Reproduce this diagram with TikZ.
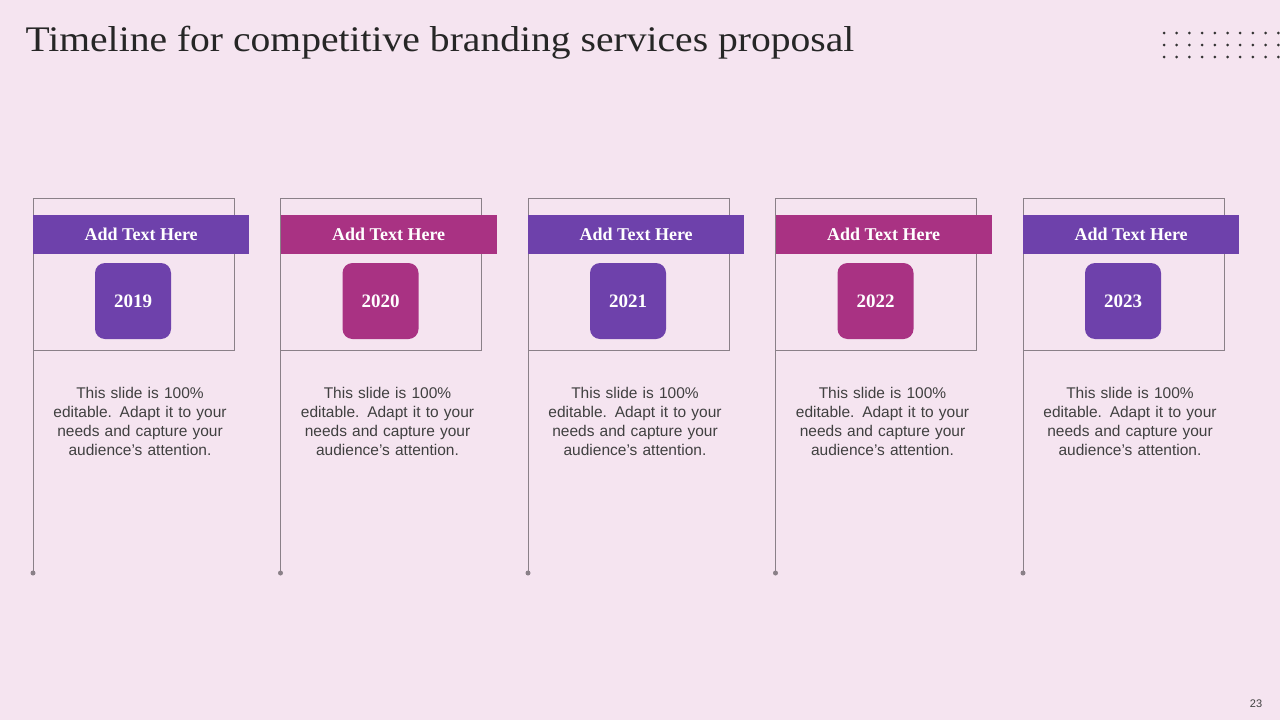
\documentclass[tikz,border=0pt]{standalone}
\usepackage{fontspec}
\setmainfont{Liberation Serif}
\setsansfont{Liberation Sans}
\newfontfamily\titlefont[FakeStretch=1.1]{Liberation Serif}
\usetikzlibrary{positioning}
\definecolor{bgpink}{HTML}{F5E4F0}
\definecolor{cardpurple}{HTML}{6E41AB}
\definecolor{cardmagenta}{HTML}{A93283}
\definecolor{framegray}{HTML}{8A8088}
\definecolor{bodytext}{HTML}{404040}
\begin{document}
\begin{tikzpicture}[
            x = 1pt, y = -1pt,
            frame/.style = {draw = framegray, line width = 0.8pt},
            banner/.style = {minimum width = 216pt, minimum height = 39pt, inner sep = 0pt,
                text = white, font = \fontsize{18}{20}\selectfont\bfseries},
            yearbox/.style = {rounded corners = 10pt, minimum size = 76pt, inner sep = 0pt,
                text = white, font = \fontsize{19}{22}\selectfont\bfseries},
            body/.style = {align = center, text = bodytext, text width = 190pt,
                font = \sffamily\fontsize{15.5}{19}\selectfont}
        ]
        \fill[bgpink] (0,0) rectangle (1280,720);
        \useasboundingbox (0,0) rectangle (1280,720);

        \node[anchor = west, text = black!85, font = \titlefont\fontsize{36}{40}\selectfont] (title) at (22,43)
            {Timeline for competitive branding services proposal};

        % dot grid top right
        \foreach \r in {0,1,2}
            \foreach \c in {0,...,9}
                \fill[black!80] (1164+\c*12.7, 33+\r*12) circle (1.5pt);

        \foreach \i/\yr/\col in {0/2019/cardpurple, 1/2020/cardmagenta, 2/2021/cardpurple,
                                 3/2022/cardmagenta, 4/2023/cardpurple} {
            \pgfmathsetmacro{\xl}{33+\i*247.5}
            \draw[frame] (\xl,198) rectangle (\xl+201,350);
            \draw[frame] (\xl,350) -- (\xl,573);
            \fill[framegray] (\xl,573) circle (2.5pt);
            \node[banner, fill = \col, anchor = north west] (head\i) at (\xl,215) {Add Text Here};
            \node[yearbox, fill = \col] (year\i) at (\xl+100,301) {\yr};
            \node[body] (desc\i) at (\xl+107,421) {This slide is 100\%\\ editable. Adapt it to your\\ needs and capture your\\ audience's attention.};
        }

        \node[font = \sffamily\fontsize{11}{12}\selectfont, text = bodytext] (pagenum) at (1256,704) {23};
    \end{tikzpicture}
\end{document}
